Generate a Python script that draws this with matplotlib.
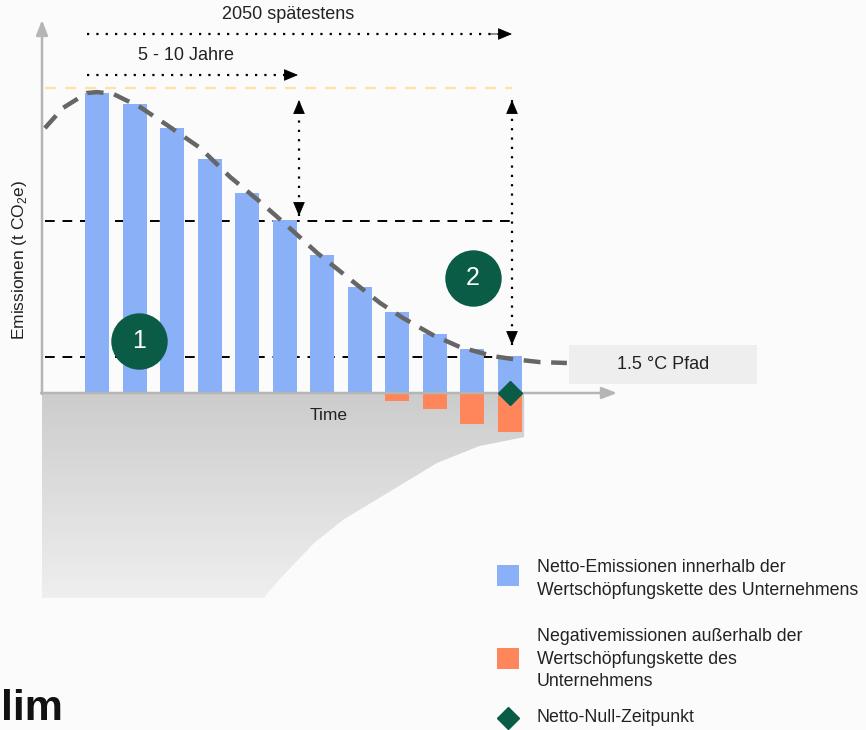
import matplotlib

matplotlib.use("Agg")
import matplotlib.pyplot as plt
import numpy as np
from matplotlib.patches import Polygon, Rectangle

plt.rcParams["font.family"] = ["Liberation Sans", "DejaVu Sans"]
plt.rcParams["mathtext.fontset"] = "custom"
plt.rcParams["mathtext.rm"] = "Liberation Sans"

# data (time steps, emissions in arbitrary units, peak = 100)
time = np.arange(1, 13)
net_emissions = [100, 96.3, 88.3, 78, 66.7, 57.7, 46, 35.3, 27, 19.7, 14.7, 12.3]
negative_emissions = [0, 0, 0, 0, 0, 0, 0, 0, -2.7, -5.3, -10.3, -13.0]

# 1.5 °C pathway
path_t = [-0.39, 0.09, 0.73, 1.0, 1.43, 2.15, 2.87, 3.75, 4.55, 5.35, 5.96,
          6.87, 8.01, 8.55, 9.16, 9.96, 10.68, 11.56, 12.09, 12.81, 13.53]
path_e = [88.3, 95, 100, 100.3, 99.7, 95.3, 89.3, 81.7, 72, 63.7, 57,
          46.7, 35.3, 30, 25, 19.3, 15.3, 12.3, 11.3, 10.3, 10]

# removals envelope (grey area below the axis)
removal_t = [-0.47, 12.39, 12.39, 11.19, 10.07, 8.79, 7.56, 6.79, 5.8, 5.45, -0.47]
removal_e = [-0.3, -0.3, -14.7, -17.7, -23.3, -33, -42.3, -50, -63, -68.3, -68.3]

level_peak = 101.7
level_mid = 57.3
level_low = 12.0
netzero_t = 12

BLUE = "#8ab0f8"
ORANGE = "#ff855a"
GREEN = "#0b5c46"
AXIS = "#b5b5b5"
BG = "#fbfbfb"
TXT = "#222222"


# layout helpers: pixel position in the 866x730 canvas -> data coords
def X(px):
    return (px - 97) / 37.5 + 1


def Y(py):
    return (393 - py) / 3


def dotted_arrow(ax, start, tip, both=False):
    ax.plot([start[0], tip[0]], [start[1], tip[1]], color="black", lw=1.6,
            linestyle=(0, (1, 3.2)), zorder=4)
    ends = [(start, tip), (tip, start)] if both else [(start, tip)]
    for a, b in ends:
        # short solid segment just to carry the filled head
        back = (b[0] - (b[0] - a[0]) * 0.05, b[1] - (b[1] - a[1]) * 0.05)
        ax.annotate("", xy=b, xytext=back,
                    arrowprops=dict(arrowstyle="-|>,head_length=0.9,head_width=0.38",
                                    color="black", lw=0.6, shrinkA=0, shrinkB=0),
                    zorder=4)


fig = plt.figure(figsize=(8.66, 7.30), dpi=100, facecolor=BG)
ax = fig.add_axes([0, 0, 1, 1])
ax.set_facecolor(BG)
ax.set_xlim(X(0), X(866))
ax.set_ylim(Y(730), Y(0))
ax.axis("off")

# grey gradient area
poly = Polygon(np.column_stack([removal_t, removal_e]), closed=True,
               facecolor="none", edgecolor="none")
ax.add_patch(poly)
grad = np.linspace(0, 1, 256).reshape(-1, 1)
im = ax.imshow(grad, cmap=matplotlib.colors.LinearSegmentedColormap.from_list(
    "g", ["#cccccc", "#efefef"]), aspect="auto",
    extent=[min(removal_t), max(removal_t), min(removal_e), max(removal_e)],
    origin="upper", zorder=0)
im.set_clip_path(poly)

# reference lines
ax.plot([X(45), X(512)], [level_peak] * 2, color="#fde3a0", lw=1.6,
        dashes=(5, 4), zorder=1)
for lvl in (level_mid, level_low):
    ax.plot([X(45), X(512)], [lvl] * 2, color="black", lw=1.4,
            dashes=(5, 4), zorder=1)

# bars
ax.bar(time, net_emissions, width=0.64, color=BLUE, zorder=2)
ax.bar(time, negative_emissions, width=0.64, color=ORANGE, zorder=2)

# axes arrows
ax.annotate("", xy=(X(42), Y(20)), xytext=(X(42), Y(394)),
            arrowprops=dict(arrowstyle="-|>,head_length=0.9,head_width=0.35",
                            color=AXIS, lw=1.8, shrinkA=0, shrinkB=0), zorder=3)
ax.annotate("", xy=(X(617), Y(393)), xytext=(X(41), Y(393)),
            arrowprops=dict(arrowstyle="-|>,head_length=0.9,head_width=0.35",
                            color=AXIS, lw=1.8, shrinkA=0, shrinkB=0), zorder=3)

# 1.5 °C path
ax.plot(path_t, path_e, color="#666666", lw=3.2, dashes=(3.8, 2.4),
        solid_capstyle="butt", zorder=3)

# dotted arrows
dotted_arrow(ax, (X(87), Y(34)), (X(512), Y(34)))
dotted_arrow(ax, (X(87), Y(75)), (X(298), Y(75)))
dotted_arrow(ax, (X(299), Y(216)), (X(299), Y(100)), both=True)
dotted_arrow(ax, (X(512), Y(345)), (X(512), Y(100)), both=True)

ax.text(X(288), Y(15), "2050 spätestens", ha="center", va="center",
        fontsize=13, color=TXT)
ax.text(X(186), Y(56), "5 - 10 Jahre", ha="center", va="center",
        fontsize=13, color=TXT)

# numbered circles
for num, (cx, cy) in [("1", (X(139), Y(341))), ("2", (X(473), Y(278)))]:
    ax.scatter([cx], [cy], s=1650, color=GREEN, zorder=5, linewidths=0)
    ax.text(cx, cy, num, ha="center", va="center", color="white",
            fontsize=18, zorder=6)

# net zero marker
ax.plot([netzero_t], [0], marker="D", ms=12, color=GREEN, zorder=6)

# 1.5 °C label box
ax.add_patch(Rectangle((X(569), Y(384)), X(757) - X(569), Y(345) - Y(384),
                       facecolor="#eeeeee", edgecolor="none", zorder=2))
ax.text(X(663), Y(365), "1.5 °C Pfad", ha="center", va="center",
        fontsize=13, color=TXT, zorder=3)

ax.text(X(329), Y(416), "Time", ha="center", va="center", fontsize=12.5,
        color=TXT)
ax.text(X(20), Y(260), r"Emissionen (t CO$_2$e)", ha="center", va="center",
        rotation=90, fontsize=12.5, color=TXT)

# legend
ax.add_patch(Rectangle((X(497), Y(586)), X(519) - X(497), Y(565) - Y(586),
                       facecolor=BLUE, edgecolor="none"))
ax.add_patch(Rectangle((X(497), Y(669)), X(519) - X(497), Y(648) - Y(669),
                       facecolor=ORANGE, edgecolor="none"))
ax.plot([X(508)], [Y(718)], marker="D", ms=11, color=GREEN)
leg_kw = dict(ha="left", va="center", fontsize=12.8, color=TXT,
              linespacing=1.42)
ax.text(X(537), Y(579), "Netto-Emissionen innerhalb der\n"
        "Wertschöpfungskette des Unternehmens", **leg_kw)
ax.text(X(537), Y(659), "Negativemissionen außerhalb der\n"
        "Wertschöpfungskette des\nUnternehmens", **leg_kw)
ax.text(X(537), Y(718), "Netto-Null-Zeitpunkt", **leg_kw)

# logo fragment
ax.text(X(1), Y(729), "lim", ha="left", va="bottom", fontsize=31,
        fontweight="bold", color="#111111")

fig.savefig("out.png", dpi=100, facecolor=BG)
